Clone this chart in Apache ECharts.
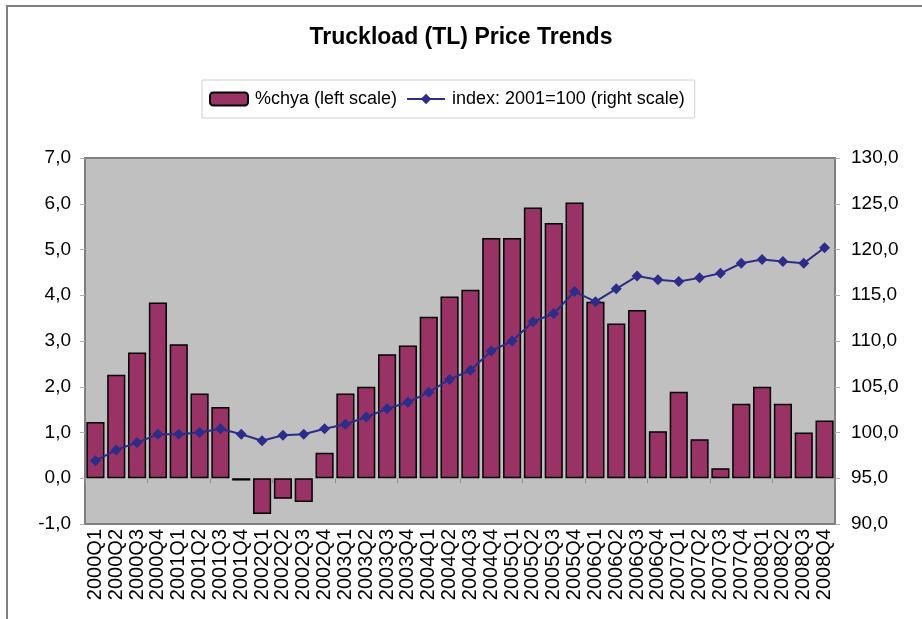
<!DOCTYPE html>
<html>
<head>
<meta charset="utf-8">
<script src="https://cdn.jsdelivr.net/npm/echarts@6/dist/echarts.min.js"></script>
<style>
  html, body { margin: 0; padding: 0; background: #fff; }
  #chart { width: 922px; height: 619px; }
</style>
</head>
<body>
<div id="chart"></div>
<script>
// quarters 2000Q1 .. 2008Q4
const quarters = [
  "2000Q1", "2000Q2", "2000Q3", "2000Q4",
  "2001Q1", "2001Q2", "2001Q3", "2001Q4",
  "2002Q1", "2002Q2", "2002Q3", "2002Q4",
  "2003Q1", "2003Q2", "2003Q3", "2003Q4",
  "2004Q1", "2004Q2", "2004Q3", "2004Q4",
  "2005Q1", "2005Q2", "2005Q3", "2005Q4",
  "2006Q1", "2006Q2", "2006Q3", "2006Q4",
  "2007Q1", "2007Q2", "2007Q3", "2007Q4",
  "2008Q1", "2008Q2", "2008Q3", "2008Q4",
];
// %chya, left scale
const chya = [
  1.23, 2.26, 2.75, 3.84,
  2.93, 1.85, 1.56, -0.05,
  -0.78, -0.45, -0.52, 0.56,
  1.85, 2.0, 2.71, 2.9,
  3.53, 3.97, 4.12, 5.25,
  5.25, 5.92, 5.58, 6.03,
  3.86, 3.38, 3.68, 1.03,
  1.89, 0.85, 0.22, 1.63,
  2.0, 1.63, 1.0, 1.26,
];
// index 2001=100, right scale
const index2001 = [
  96.9, 98.1, 98.9, 99.8,
  99.8, 100.0, 100.4, 99.8,
  99.1, 99.7, 99.8, 100.4,
  100.9, 101.7, 102.6, 103.3,
  104.4, 105.8, 106.8, 108.9,
  110.0, 112.1, 113.0, 115.4,
  114.3, 115.7, 117.1, 116.7,
  116.5, 116.9, 117.4, 118.5,
  118.9, 118.7, 118.5, 120.2,
];

const FONT = "Liberation Sans, Arial, sans-serif";
const comma = (v) => v.toFixed(1).replace(".", ",");

const myChart = echarts.init(document.getElementById("chart"));
myChart.setOption({
  animation: false,
  backgroundColor: "#fff",
  textStyle: { fontFamily: FONT, color: "#000" },
  graphic: [
    {
      // outer chart frame
      type: "rect",
      shape: { x: 7, y: 6, width: 1000, height: 700 },
      style: { fill: "none", stroke: "#808080", lineWidth: 2 },
      silent: true,
    },
  ],
  title: {
    text: "Truckload (TL) Price Trends",
    left: "center",
    top: 26,
    padding: 0,
    textStyle: { fontFamily: FONT, fontSize: 23, fontWeight: "bold", color: "#000" },
  },
  legend: {
    left: 202,
    top: 80,
    padding: [10, 10, 10, 7],
    itemGap: 9,
    itemWidth: 38,
    itemHeight: 13,
    borderColor: "#d0d0d0",
    borderWidth: 1,
    textStyle: { fontFamily: FONT, fontSize: 18, color: "#000", padding: [0, 0, 0, 2] },
    data: ["%chya (left scale)", "index: 2001=100 (right scale)"],
  },
  grid: {
    left: 85,
    top: 158,
    right: 87,
    bottom: 95,
    show: true,
    backgroundColor: "#c0c0c0",
    borderColor: "#808080",
    borderWidth: 2,
  },
  xAxis: [
    {
      type: "category",
      data: quarters,
      position: "bottom",
      axisLine: { onZero: false, show: false },
      axisTick: { show: false },
      axisLabel: {
        interval: 0,
        rotate: 90,
        margin: 5,
        fontFamily: FONT,
        fontSize: 20,
        color: "#000",
      },
    },
    {
      // tick marks along the zero line
      type: "category",
      data: quarters,
      position: "bottom",
      axisLine: { onZero: true, show: false },
      axisTick: { show: true, length: 5, lineStyle: { color: "#909090" } },
      axisLabel: { show: false },
    },
  ],
  yAxis: [
    {
      type: "value",
      min: -1,
      max: 7,
      interval: 1,
      axisLine: { show: false },
      axisTick: { show: true, length: 5, lineStyle: { color: "#b0b0b0" } },
      splitLine: { show: false },
      axisLabel: {
        margin: 14,
        fontFamily: FONT,
        fontSize: 19,
        color: "#000",
        formatter: comma,
      },
    },
    {
      type: "value",
      min: 90,
      max: 130,
      interval: 5,
      position: "right",
      axisLine: { show: false },
      axisTick: { show: true, length: 5, lineStyle: { color: "#b0b0b0" } },
      splitLine: { show: false },
      axisLabel: {
        margin: 16,
        fontFamily: FONT,
        fontSize: 19,
        color: "#000",
        formatter: comma,
      },
    },
  ],
  series: [
    {
      name: "%chya (left scale)",
      type: "bar",
      xAxisIndex: 0,
      yAxisIndex: 0,
      data: chya,
      barCategoryGap: "13%",
      itemStyle: { color: "#993366", borderColor: "#000", borderWidth: 1.5 },
    },
    {
      name: "index: 2001=100 (right scale)",
      type: "line",
      xAxisIndex: 0,
      yAxisIndex: 1,
      data: index2001,
      symbol: "diamond",
      symbolSize: 11,
      lineStyle: { color: "#2b2d88", width: 2 },
      itemStyle: { color: "#2b2d88" },
      z: 5,
    },
  ],
});
</script>
</body>
</html>
